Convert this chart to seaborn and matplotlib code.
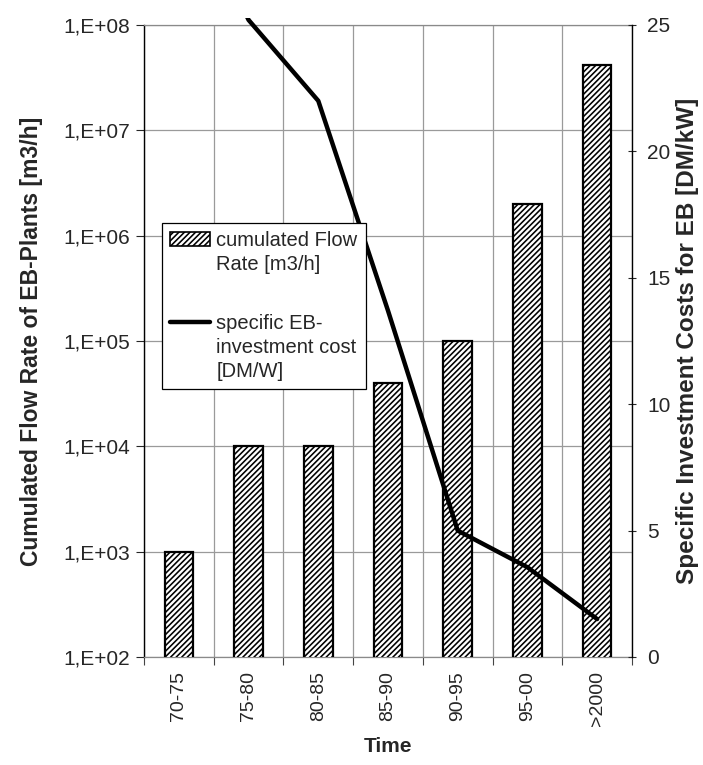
import matplotlib
matplotlib.use("Agg")
import matplotlib.pyplot as plt
import matplotlib.patches as mpatches
import matplotlib.ticker as mticker
import numpy as np
import pandas as pd
import seaborn as sns


periods = ["70-75", "75-80", "80-85", "85-90", "90-95", "95-00", ">2000"]
flow_rate = [1e3, 1e4, 1e4, 4e4, 1e5, 2e6, 4.2e7]
invest_cost = [31.0, 25.2, 22.0, 13.7, 5.0, 3.55, 1.5]

sns.set_style("white")
plt.rcParams["font.family"] = ["Liberation Sans", "DejaVu Sans"]
plt.rcParams["hatch.linewidth"] = 1.15
plt.rcParams["hatch.color"] = "black"

df = pd.DataFrame({"Time": periods, "flow": flow_rate,
                   "pos": np.arange(len(periods)), "cost": invest_cost})

fig = plt.figure(figsize=(7.03, 7.65), dpi=100)
ax = fig.add_axes([144 / 703, 1 - 657 / 765, 488 / 703, 632 / 765])
ax.set_yscale("log")
sns.barplot(df, x="Time", y="flow", color="white", width=0.41,
            edgecolor="black", linewidth=1.6, zorder=3, ax=ax)
for p in ax.patches:
    p.set_hatch("//////")
ax.set_ylim(1e2, 1e8)
ax.set_xlim(-0.5, len(periods) - 0.5)

ax.yaxis.set_major_locator(mticker.LogLocator(base=10, numticks=10))
ax.yaxis.set_minor_locator(mticker.NullLocator())
ax.yaxis.set_major_formatter(
    mticker.FuncFormatter(lambda v, _: "1,E+%02d" % int(round(np.log10(v)))))
ax.set_xticks(np.arange(len(periods)))
ax.set_xticklabels(periods, rotation=90)
ax.set_xticks(np.arange(-0.5, len(periods)), minor=True)
ax.tick_params(axis="x", which="major", length=0, pad=10, labelsize=14)
ax.tick_params(axis="x", which="minor", length=6, width=0.8, direction="out",
               color="#444444", bottom=True)
ax.tick_params(axis="y", which="major", length=6, width=0.8, direction="out",
               left=True, labelsize=15, pad=4)
ax.grid(axis="y", which="major", color="#9a9a9a", lw=0.9, zorder=0)
ax.grid(axis="x", which="minor", color="#9a9a9a", lw=0.9, zorder=0)
ax.grid(axis="x", which="major", visible=False)
for side in ["top", "bottom"]:
    ax.spines[side].set_color("#8a8a8a")
    ax.spines[side].set_linewidth(0.9)
ax.spines["left"].set_color("black")
ax.spines["left"].set_linewidth(1.0)
ax.spines["right"].set_visible(False)
ax.set_xlabel("Time", fontsize=15, fontweight="bold", labelpad=8)
ax.set_ylabel("Cumulated Flow Rate of EB-Plants [m3/h]", fontsize=16.5,
              fontweight="bold", labelpad=15)

ax2 = ax.twinx()
sns.lineplot(df, x="pos", y="cost", color="black", lw=3.2, ax=ax2,
             zorder=4)
ax2.set_ylim(0, 25)
ax2.set_xlim(-0.5, len(periods) - 0.5)
clip = mpatches.Rectangle((0, 0), 1, 1 + 7 / 632, transform=ax2.transAxes)
ax2.lines[0].set_clip_path(clip)
ax2.set_yticks([0, 5, 10, 15, 20, 25])
ax2.tick_params(axis="y", length=6, width=0.8, direction="inout",
                labelsize=15, pad=8, right=True)
ax2.tick_params(axis="x", bottom=False, labelbottom=False)
for side in ["top", "bottom", "left"]:
    ax2.spines[side].set_visible(False)
ax2.spines["right"].set_color("black")
ax2.spines["right"].set_linewidth(1.0)
ax2.set_ylabel("Specific Investment Costs for EB [DM/kW]", fontsize=17.5,
               fontweight="bold", labelpad=4)
ax2.set_xlabel("")
ax2.xaxis.label.set_visible(False)

# legend built line by line so the handles sit on the first text line
bar_handle = mpatches.Patch(facecolor="white", edgecolor="black",
                            hatch="//////", lw=1.2)
line_handle = plt.Line2D([], [], color="black", lw=3.2)
blank = mpatches.Patch(visible=False)
leg_handles = [bar_handle, blank, blank, line_handle, blank, blank]
leg_labels = ["cumulated Flow", "Rate [m3/h]", " ",
              "specific EB-", "investment cost", "[DM/W]"]
leg = ax2.legend(leg_handles, leg_labels,
                 loc="upper left", bbox_to_anchor=(0.037, 0.687),
                 fontsize=14.5, frameon=True, fancybox=False, framealpha=1,
                 edgecolor="black", borderpad=0.4, labelspacing=0.25,
                 handlelength=2.0, handleheight=0.7, handletextpad=0.3,
                 borderaxespad=0)
leg.get_texts()[2].set_fontsize(22)
leg.get_frame().set_linewidth(0.9)
leg.set_zorder(10)

fig.savefig("out.png", dpi=100)
